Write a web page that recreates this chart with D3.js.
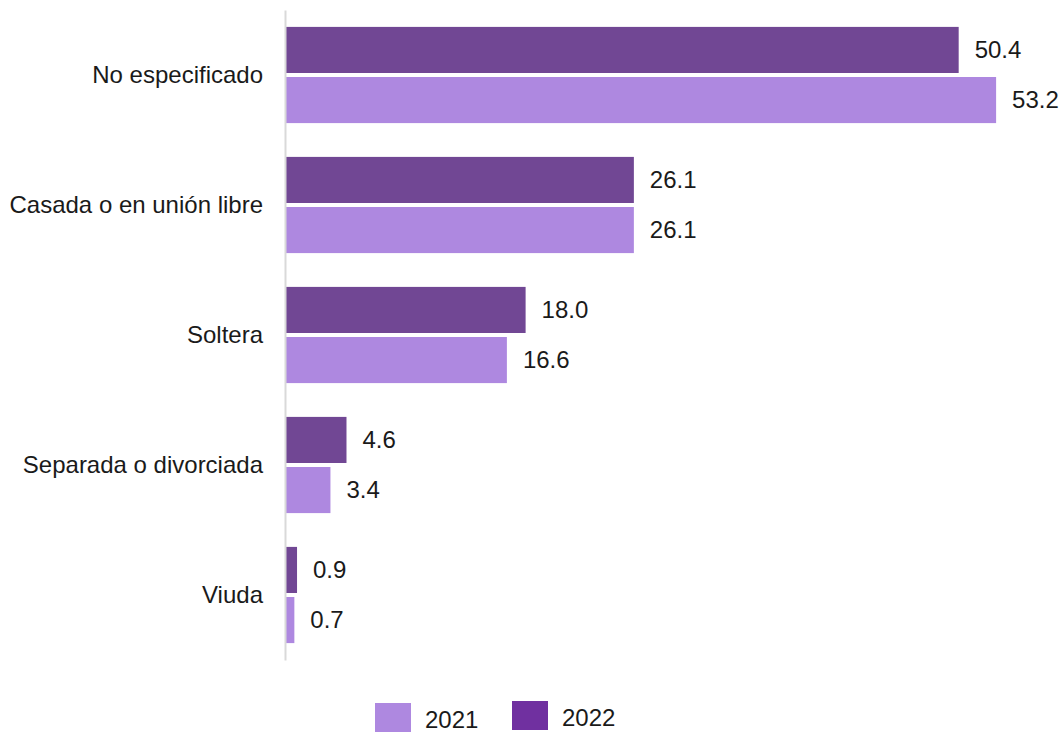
<!DOCTYPE html>
<html>
<head>
<meta charset="utf-8">
<script src="https://cdn.jsdelivr.net/npm/d3@7"></script>
<style>
	body { margin: 0; background: #fff; }
	text { font-family: "Liberation Sans", Arial, sans-serif; fill: #1a1a1a; }
</style>
</head>
<body>
<svg id="chart" width="1061" height="732"></svg>
<script>
// estado conyugal, porcentajes por año
const categories = ["No especificado", "Casada o en unión libre", "Soltera", "Separada o divorciada", "Viuda"];
const years = ["2022", "2021"];
const values2022 = [50.4, 26.1, 18.0, 4.6, 0.9];
const values2021 = [53.2, 26.1, 16.6, 3.4, 0.7];
const legendYears = ["2021", "2022"];

const barColors = { "2022": "#714794", "2021": "#ae88e0" };
const legendColors = { "2021": "#ae88e0", "2022": "#7030a0" };

const svg = d3.select("#chart");
const axisX = 285;
const fontSize = 24;

const x = d3.scaleLinear()
	.domain([0, 60])
	.range([axisX, axisX + 802]);

const y = d3.scaleBand()
	.domain(categories)
	.range([10, 660])
	.paddingInner(0.26)
	.paddingOuter(0.13);

const yInner = d3.scaleBand()
	.domain(years)
	.range([0, y.bandwidth()])
	.paddingInner(0.08);

const rows = categories.map((c, i) => ({
	category: c,
	bars: [
		{ year: "2022", value: values2022[i] },
		{ year: "2021", value: values2021[i] }
	]
}));

const groups = svg.selectAll("g.group")
	.data(rows)
	.join("g")
	.attr("class", "group")
	.attr("transform", d => `translate(0,${y(d.category)})`);

groups.selectAll("rect")
	.data(d => d.bars)
	.join("rect")
	.attr("x", x(0))
	.attr("y", d => yInner(d.year))
	.attr("width", d => x(d.value) - x(0))
	.attr("height", yInner.bandwidth())
	.attr("fill", d => barColors[d.year]);

groups.selectAll("text.value")
	.data(d => d.bars)
	.join("text")
	.attr("class", "value")
	.attr("x", d => x(d.value) + 16)
	.attr("y", d => yInner(d.year) + yInner.bandwidth() / 2)
	.attr("dy", "0.35em")
	.attr("font-size", fontSize)
	.text(d => d3.format(".1f")(d.value));

// eje vertical sin marcas
const yAxis = svg.append("g")
	.attr("transform", `translate(${axisX},0)`)
	.call(d3.axisLeft(y).tickSize(0).tickPadding(22));

yAxis.select(".domain")
	.attr("stroke", "#d9d9d9")
	.attr("stroke-width", 2);

yAxis.selectAll(".tick text")
	.attr("font-size", fontSize)
	.attr("font-family", "Liberation Sans, Arial, sans-serif")
	.attr("fill", "#1a1a1a");

// leyenda
const legend = svg.append("g");
const legendX = [375, 512];

const items = legend.selectAll("g")
	.data(legendYears)
	.join("g")
	.attr("transform", (d, i) => `translate(${legendX[i]},${i === 0 ? 703 : 701})`);

items.append("rect")
	.attr("width", 36)
	.attr("height", 29)
	.attr("fill", d => legendColors[d]);

items.append("text")
	.attr("x", 50)
	.attr("y", 17)
	.attr("dy", "0.35em")
	.attr("font-size", fontSize)
	.text(d => d);
</script>
</body>
</html>
